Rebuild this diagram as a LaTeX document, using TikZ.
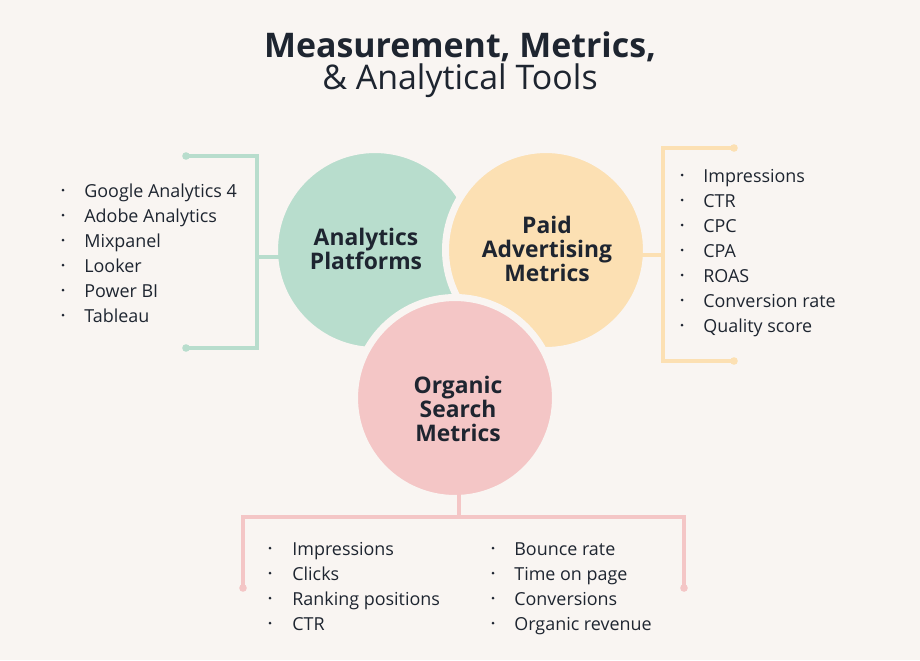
\documentclass[tikz,border=0pt]{standalone}
\usepackage{fontspec}
\setmainfont{Open Sans}
\usetikzlibrary{calc}

\definecolor{bg}{HTML}{F9F5F2}
\definecolor{ink}{HTML}{1E2530}
\definecolor{mint}{HTML}{B8DDCD}
\definecolor{sand}{HTML}{FCE0B3}
\definecolor{rose}{HTML}{F4C6C6}

\tikzset{
  blob/.style={circle, minimum size=4.02cm, inner sep=0pt, outer sep=0pt, draw=bg, line width=4pt},
  blobname/.style={align=center, inner sep=0pt, text=ink, font=\fontsize{13}{13.8}\selectfont\bfseries},
  brace/.style={line width=2.3pt},
  entry/.style={anchor=base west, inner sep=0pt, text=ink, font=\fontsize{10.2}{11}\selectfont},
  headline/.style={anchor=base, inner sep=0pt, text=ink, font=\fontsize{19.3}{20}\selectfont},
}

\begin{document}
\begin{tikzpicture}[x=0.02cm, y=-0.02cm]
\fill[bg] (0,0) rectangle (920,660);
\useasboundingbox (0,0) rectangle (920,660);

\node[headline, font={\fontsize{19.3}{20}\selectfont\bfseries}] (head) at (460,57) {Measurement, Metrics,};
\node[headline] (subhead) at (460,89) {\& Analytical Tools};

% the three circles, later ones cut into earlier ones
\node[blob, fill=mint] (analytics) at (375,250) {};
\node[blob, fill=sand] (paid) at (546,250) {};
\node[blob, fill=rose] (organic) at (455,398) {};

\node[blobname] (analyticsname) at (366,249) {Analytics\\Platforms};
\node[blobname] (paidname) at (547,249) {Paid\\Advertising\\Metrics};
\node[blobname] (organicname) at (458,409) {Organic\\Search\\Metrics};

% left bracket
\coordinate (gtop) at (186,156);
\coordinate (gbot) at (186,348);
\coordinate (gmid) at (257,257);
\coordinate (gjoin) at (290,257);
\draw[brace, mint] (gtop) -| (gmid) |- (gbot);
\draw[brace, mint] (gmid) -- (gjoin);
\fill[mint] (gtop) circle (3.8);
\fill[mint] (gbot) circle (3.8);

% right bracket
\coordinate (ytop) at (734,148);
\coordinate (ybot) at (734,361);
\coordinate (ymid) at (663,255);
\coordinate (yjoin) at (635,255);
\draw[brace, sand] (ytop) -| (ymid) |- (ybot);
\draw[brace, sand] (ymid) -- (yjoin);
\fill[sand] (ytop) circle (3.8);
\fill[sand] (ybot) circle (3.8);

% bottom bracket
\coordinate (pleft) at (243,588);
\coordinate (pright) at (684,588);
\coordinate (pmid) at (459,517);
\coordinate (pjoin) at (459,488);
\draw[brace, rose] (pleft) |- (pmid) -| (pright);
\draw[brace, rose] (pmid) -- (pjoin);
\fill[rose] (pleft) circle (3.8);
\fill[rose] (pright) circle (3.8);

% lists
\foreach \lbl [count=\i from 0] in {Google Analytics 4, Adobe Analytics, Mixpanel, Looker, Power BI, Tableau}{
  \fill[ink] (63,190+25*\i) circle (1.5);
  \node[entry] (tool\i) at (84,197+25*\i) {\lbl};
}
\foreach \lbl [count=\i from 0] in {Impressions, CTR, CPC, CPA, ROAS, Conversion rate, Quality score}{
  \fill[ink] (682,175+25*\i) circle (1.5);
  \node[entry] (paid\i) at (703,182+25*\i) {\lbl};
}
\foreach \lbl [count=\i from 0] in {Impressions, Clicks, Ranking positions, CTR}{
  \fill[ink] (270,548+25*\i) circle (1.5);
  \node[entry] (seoa\i) at (292,555+25*\i) {\lbl};
}
\foreach \lbl [count=\i from 0] in {Bounce rate, Time on page, Conversions, Organic revenue}{
  \fill[ink] (493,548+25*\i) circle (1.5);
  \node[entry] (seob\i) at (514,555+25*\i) {\lbl};
}

\end{tikzpicture}
\end{document}
